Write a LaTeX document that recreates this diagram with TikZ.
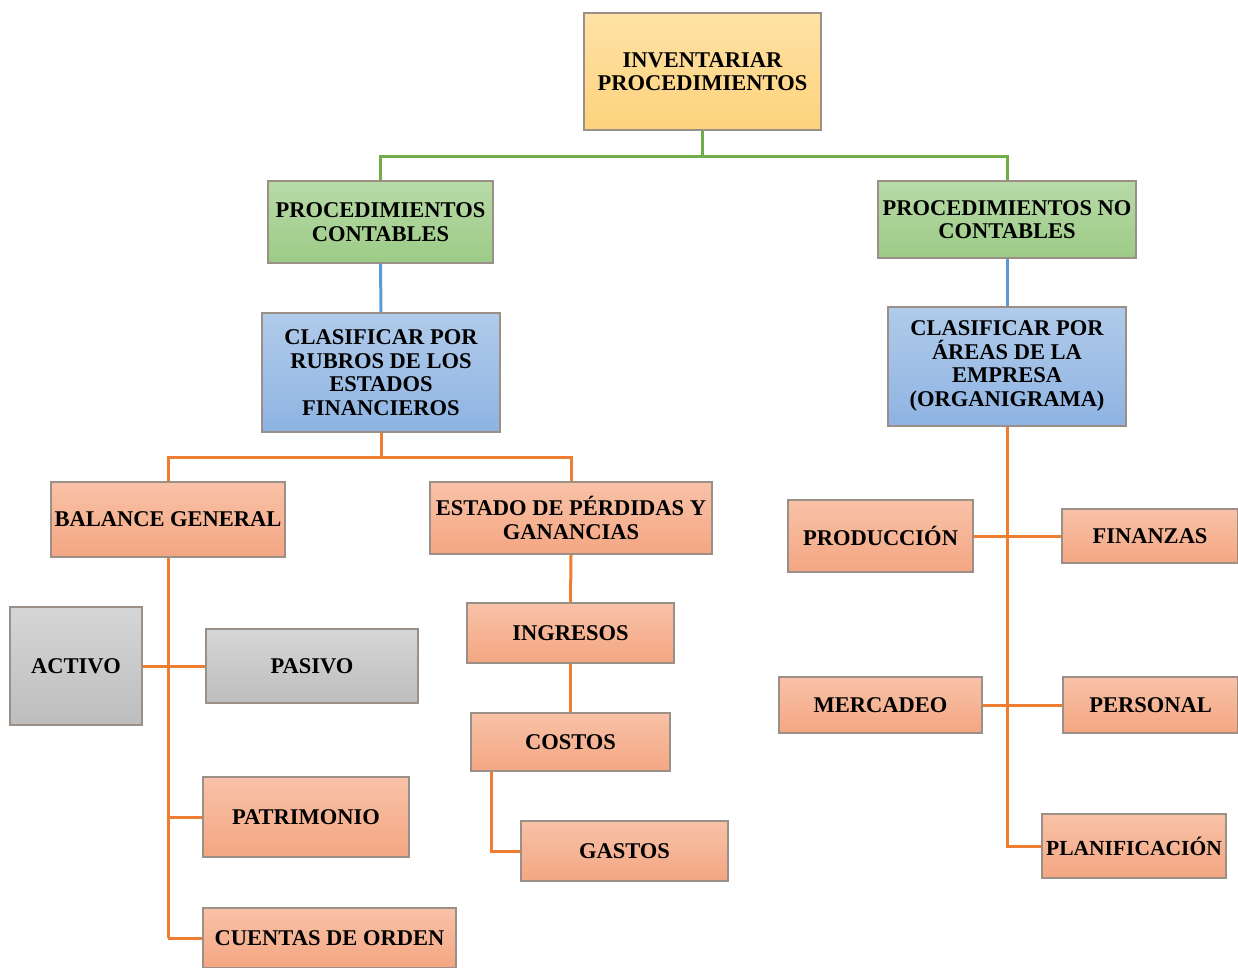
\documentclass[tikz,border=0pt]{standalone}
\usepackage{fontspec}
\setmainfont{Liberation Serif}
\definecolor{yelT}{HTML}{FFE2A6}
\definecolor{yelB}{HTML}{FDD27C}
\definecolor{grnT}{HTML}{B8DAA8}
\definecolor{grnB}{HTML}{9CCB86}
\definecolor{bluT}{HTML}{B0CBEA}
\definecolor{bluB}{HTML}{8EB3E2}
\definecolor{salT}{HTML}{F8C2A8}
\definecolor{salB}{HTML}{F4A682}
\definecolor{gryT}{HTML}{D6D6D6}
\definecolor{gryB}{HTML}{BDBDBD}
\definecolor{bord}{HTML}{9A9088}
\definecolor{lgreen}{HTML}{70AD47}
\definecolor{lblue}{HTML}{5B9BD5}
\definecolor{lorange}{HTML}{ED7D31}
\tikzset{
  box/.style={draw=bord, line width=1.8pt, align=center, inner sep=2pt,
    font=\fontsize{22.5}{23.5}\selectfont\bfseries, text=black},
  yel/.style={box, top color=yelT, bottom color=yelB},
  grn/.style={box, top color=grnT, bottom color=grnB},
  blu/.style={box, top color=bluT, bottom color=bluB},
  sal/.style={box, top color=salT, bottom color=salB},
  gry/.style={box, top color=gryT, bottom color=gryB},
  sz/.style 2 args={minimum width=#1pt, minimum height=#2pt},
  gline/.style={draw=lgreen, line width=3pt},
  bline/.style={draw=lblue, line width=3pt},
  oline/.style={draw=lorange, line width=3pt},
}
\begin{document}
\begin{tikzpicture}[x=1pt,y=-1pt]
\useasboundingbox[fill=white] (0,0) rectangle (1238,967);
\coordinate (gj) at (702.5,156);
\coordinate (oj) at (381,457);
\coordinate (gc) at (491,851);

\node[yel, sz={237}{117}] (inv) at (702.5,71.5) {INVENTARIAR\\PROCEDIMIENTOS};
\node[grn, sz={225}{82}] (pc) at (380.5,222) {PROCEDIMIENTOS\\CONTABLES};
\node[grn, sz={258}{77}] (pnc) at (1007,219.5) {PROCEDIMIENTOS NO\\CONTABLES};
\node[blu, sz={238}{119}] (cr) at (381,372.5) {CLASIFICAR POR\\RUBROS DE LOS\\ESTADOS\\FINANCIEROS};
\node[blu, sz={238}{119}, text depth=6pt] (ca) at (1007,366.5) {CLASIFICAR POR\\ÁREAS DE LA\\EMPRESA\\(ORGANIGRAMA)};
\node[sal, sz={234}{75}] (bg) at (168,519.5) {BALANCE GENERAL};
\node[sal, sz={282}{72}] (ep) at (571,518) {ESTADO DE PÉRDIDAS Y\\GANANCIAS};
\node[gry, sz={132}{118}] (act) at (76,666) {ACTIVO};
\node[gry, sz={212}{74}] (pas) at (312,666) {PASIVO};
\node[sal, sz={206}{80}] (pat) at (306,817) {PATRIMONIO};
\node[sal, sz={253}{60}] (cue) at (329.5,938) {CUENTAS DE ORDEN};
\node[sal, sz={207}{60}] (ing) at (570.5,633) {INGRESOS};
\node[sal, sz={199}{58}] (cos) at (570.5,742) {COSTOS};
\node[sal, sz={207}{60}] (gas) at (624.5,851) {GASTOS};
\node[sal, sz={185}{72}] (pro) at (880.5,536) {PRODUCCIÓN};
\node[sal, sz={176}{54}] (fin) at (1150,536) {FINANZAS};
\node[sal, sz={203}{56}] (mer) at (880.5,705) {MERCADEO};
\node[sal, sz={175}{56}] (per) at (1150.5,705) {PERSONAL};
\node[sal, sz={184}{64}, inner xsep=0pt, font=\fontsize{21.5}{23.5}\selectfont\bfseries] (pla) at (1134,846) {PLANIFICACIÓN};

% green
\draw[gline] (inv.south) -- (gj);
\draw[gline] (gj) -| (pc.north);
\draw[gline] (gj) -| (pnc.north);
% blue
\draw[bline] (pc.south) -- (cr.north);
\draw[bline] (pnc.south) -- (ca.north);
% orange left
\draw[oline] (cr.south) -- (oj);
\draw[oline] (oj) -| (bg.north);
\draw[oline] (oj) -| (ep.north);
\draw[oline] (bg.south) -- (bg.south |- cue.west);
\draw[oline] (act.east) -- (pas.west);
\draw[oline] (bg.south |- pat.west) -- (pat.west);
\draw[oline] (bg.south |- cue.west) -- (cue.west);
\draw[oline] (ep.south) -- (ing.north);
\draw[oline] (ing.south) -- (cos.north);
\draw[oline] (cos.south -| gc) -- (gc) -- (gas.west);
% orange right
\draw[oline] (ca.south) -- (ca.south |- pla.west) -- (pla.west);
\draw[oline] (pro.east) -- (fin.west);
\draw[oline] (mer.east) -- (per.west);
\end{tikzpicture}
\end{document}
